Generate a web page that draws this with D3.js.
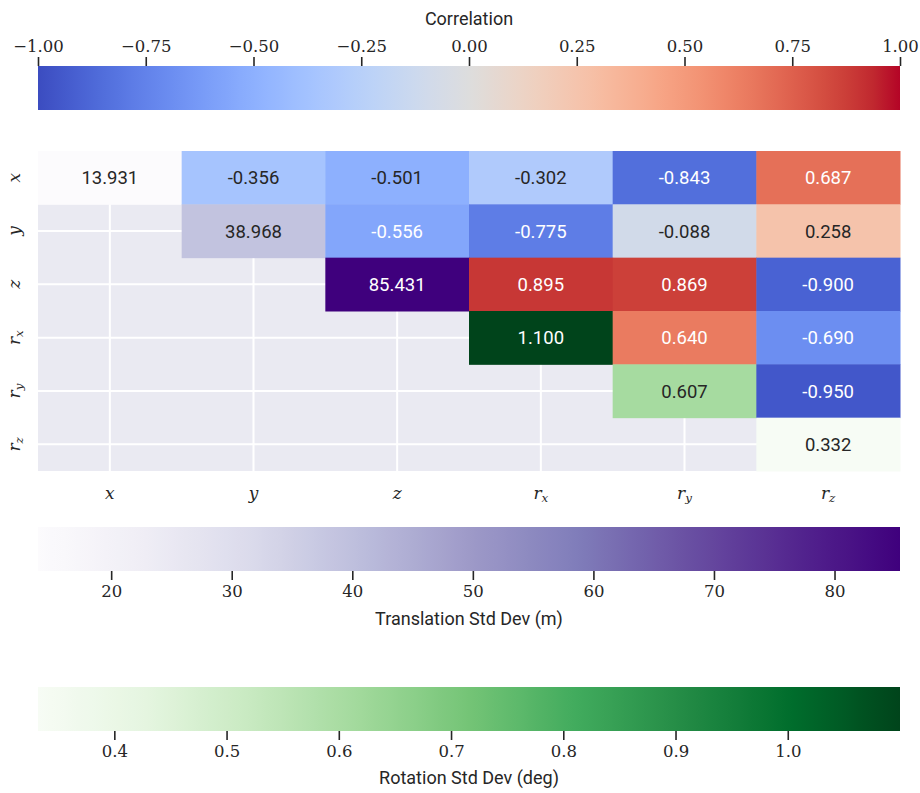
<!DOCTYPE html>
<html>
<head>
<meta charset="utf-8">
<script src="https://cdn.jsdelivr.net/npm/d3@7"></script>
<style>
  html, body { margin: 0; padding: 0; background: #fff; }
  svg { display: block; }
</style>
</head>
<body>
<svg id="chart" width="920" height="793"></svg>
<script>
// ---------- data ----------
const labels = ["x", "y", "z", "r_x", "r_y", "r_z"];
const diagValues = [13.931, 38.968, 85.431, 1.100, 0.607, 0.332];
const corrRow0 = [-0.356, -0.501, -0.302, -0.843, 0.687];
const corrRow1 = [-0.556, -0.775, -0.088, 0.258];
const corrRow2 = [0.895, 0.869, -0.900];
const corrRow3 = [0.640, -0.690];
const corrRow4 = [-0.950];
const corrRows = [corrRow0, corrRow1, corrRow2, corrRow3, corrRow4];
const corrTicks = [-1.00, -0.75, -0.50, -0.25, 0.00, 0.25, 0.50, 0.75, 1.00];
const transTicks = [20, 30, 40, 50, 60, 70, 80];
const rotTicks = [0.4, 0.5, 0.6, 0.7, 0.8, 0.9, 1.0];
const corrLabel = "Correlation";
const transLabel = "Translation Std Dev (m)";
const rotLabel = "Rotation Std Dev (deg)";

// ---------- colormaps ----------
const coolwarmStops = [
  [59,76,192],[68,90,204],[77,104,215],[87,117,225],[98,130,234],[108,142,241],
  [119,154,247],[130,165,251],[141,176,254],[152,185,255],[163,194,255],[174,201,253],
  [184,208,249],[194,213,244],[204,217,238],[213,219,230],[221,221,221],[229,216,209],
  [236,211,197],[241,204,185],[245,196,173],[247,187,160],[247,177,148],[247,166,135],
  [244,154,123],[241,141,111],[236,127,99],[229,112,88],[222,96,77],[213,80,66],
  [203,62,56],[192,40,47],[180,4,38]
].map(c => d3.rgb(c[0], c[1], c[2]).toString());
const purplesStops = ["#fcfbfd","#efedf5","#dadaeb","#bcbddc","#9e9ac8","#807dba","#6a51a3","#54278f","#3f007d"];
const greensStops  = ["#f7fcf5","#e5f5e0","#c7e9c0","#a1d99b","#74c476","#41ab5d","#238b45","#006d2c","#00441b"];

function stopScale(stops, lo, hi) {
  const dom = stops.map((_, i) => lo + (hi - lo) * i / (stops.length - 1));
  return d3.scaleLinear().domain(dom).range(stops).interpolate(d3.interpolateRgb).clamp(true);
}
const transVals = diagValues.slice(0, 3), rotVals = diagValues.slice(3);
const corrColor = stopScale(coolwarmStops, -1, 1);
const transColor = stopScale(purplesStops, d3.min(transVals), d3.max(transVals));
const rotColor = stopScale(greensStops, d3.min(rotVals), d3.max(rotVals));

function relLum(c) {
  const r = d3.rgb(c);
  const f = v => { v /= 255; return v <= 0.03928 ? v / 12.92 : Math.pow((v + 0.055) / 1.055, 2.4); };
  return 0.2126 * f(r.r) + 0.7152 * f(r.g) + 0.0722 * f(r.b);
}

// ---------- layout ----------
const svg = d3.select("#chart");
const L = 38, R = 900;
const heatTop = 151, heatBot = 471;
const sansFont = "Roboto, sans-serif";
const serifFont = "DejaVu Serif";
const dark = "#262626";

const xBand = d3.scaleBand().domain(labels).range([L, R]);
const yBand = d3.scaleBand().domain(labels).range([heatTop, heatBot]);

// background
svg.append("rect").attr("x", L).attr("y", heatTop)
  .attr("width", R - L).attr("height", heatBot - heatTop).attr("fill", "#eaeaf2");
// grid
const g = svg.append("g");
labels.forEach(l => {
  const cx = xBand(l) + xBand.bandwidth() / 2;
  g.append("line").attr("x1", cx).attr("x2", cx).attr("y1", heatTop).attr("y2", heatBot)
    .attr("stroke", "#fff").attr("stroke-width", 2);
  const cy = yBand(l) + yBand.bandwidth() / 2;
  g.append("line").attr("x1", L).attr("x2", R).attr("y1", cy).attr("y2", cy)
    .attr("stroke", "#fff").attr("stroke-width", 2);
});

// cells
const cells = [];
labels.forEach((rl, i) => {
  labels.forEach((cl, j) => {
    if (j < i) return;
    let v, color;
    if (i === j) {
      v = diagValues[i];
      color = i < 3 ? transColor(v) : rotColor(v);
    } else {
      v = corrRows[i][j - i - 1];
      color = corrColor(v);
    }
    cells.push({ row: rl, col: cl, v, color });
  });
});
const cg = svg.append("g");
cg.selectAll("rect").data(cells).join("rect")
  .attr("x", d => xBand(d.col)).attr("y", d => yBand(d.row))
  .attr("width", xBand.bandwidth() + 0.5).attr("height", yBand.bandwidth() + 0.5)
  .attr("fill", d => d.color);
cg.selectAll("text").data(cells).join("text")
  .attr("x", d => xBand(d.col) + xBand.bandwidth() / 2)
  .attr("y", d => yBand(d.row) + yBand.bandwidth() / 2)
  .attr("dy", "0.36em")
  .attr("text-anchor", "middle")
  .attr("font-family", sansFont).attr("font-size", 18.5)
  .attr("fill", d => relLum(d.color) > 0.408 ? dark : "#fff")
  .text(d => d.v.toFixed(3));

// axis labels (math italic)
function mathLabel(sel, name) {
  const parts = name.split("_");
  sel.append("tspan").text(parts[0]);
  if (parts[1]) {
    sel.append("tspan").attr("font-size", "70%").attr("dy", "0.25em").text(parts[1]);
  }
}
labels.forEach(l => {
  const cx = xBand(l) + xBand.bandwidth() / 2;
  const t = svg.append("text").attr("x", cx).attr("y", 499)
    .attr("text-anchor", "middle").style("font-family", serifFont)
    .attr("font-style", "italic").attr("font-size", 17).attr("fill", dark);
  mathLabel(t, l);
  const cy = yBand(l) + yBand.bandwidth() / 2;
  const ty = svg.append("text").attr("transform", `translate(20,${cy}) rotate(-90)`)
    .attr("text-anchor", "middle").style("font-family", serifFont)
    .attr("font-style", "italic").attr("font-size", 17).attr("fill", dark);
  mathLabel(ty, l);
});

// ---------- colorbars ----------
function colorbar(id, scale, lo, hi, y0, y1, ticks, fmt, tickSide, label, labelY) {
  const grad = svg.append("defs").append("linearGradient").attr("id", id)
    .attr("x1", "0%").attr("x2", "100%").attr("y1", "0%").attr("y2", "0%");
  const n = 64;
  for (let k = 0; k <= n; k++) {
    const v = lo + (hi - lo) * k / n;
    grad.append("stop").attr("offset", (100 * k / n) + "%").attr("stop-color", scale(v));
  }
  svg.append("rect").attr("x", L).attr("y", y0).attr("width", R - L).attr("height", y1 - y0)
    .attr("fill", `url(#${id})`);
  const xs = d3.scaleLinear().domain([lo, hi]).range([L, R]);
  const axis = (tickSide === "top" ? d3.axisTop(xs) : d3.axisBottom(xs))
    .tickValues(ticks).tickFormat(fmt).tickSize(9).tickPadding(5);
  const ag = svg.append("g")
    .attr("transform", `translate(0,${tickSide === "top" ? y0 : y1})`).call(axis);
  ag.attr("font-family", null).attr("font-size", null);
  ag.select(".domain").remove();
  ag.selectAll(".tick line").attr("stroke", dark).attr("stroke-width", 1.6);
  ag.selectAll(".tick text").style("font-family", serifFont).style("font-size", "16.5px").attr("fill", dark);
  svg.append("text").attr("x", (L + R) / 2).attr("y", labelY).attr("text-anchor", "middle")
    .attr("font-family", sansFont).attr("font-size", 18).attr("fill", dark).text(label);
}
const minus = s => s.replace("-", "\u2212");
colorbar("gcorr", corrColor, -1, 1, 66, 110, corrTicks, d => minus(d3.format(".2f")(d)), "top", corrLabel, 25);
colorbar("gtrans", transColor, d3.min(transVals), d3.max(transVals), 527, 571, transTicks, d3.format("d"), "bottom", transLabel, 625);
colorbar("grot", rotColor, d3.min(rotVals), d3.max(rotVals), 687, 731, rotTicks, d3.format(".1f"), "bottom", rotLabel, 784);
</script>
</body>
</html>
